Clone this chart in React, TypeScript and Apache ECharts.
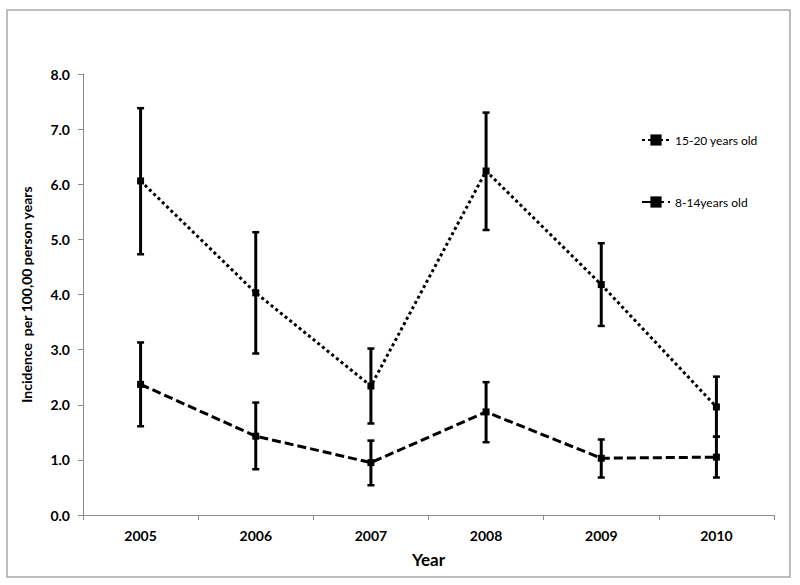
import React, { useEffect, useRef } from "react";
import * as echarts from "echarts";

const years = ["2005", "2006", "2007", "2008", "2009", "2010"];
const olderName = "15-20 years old";
const youngerName = "8-14years old";
const older = [6.06, 4.03, 2.34, 6.24, 4.18, 1.96];
const olderLow = [4.73, 2.93, 1.66, 5.17, 3.43, 1.42];
const olderHigh = [7.38, 5.13, 3.02, 7.3, 4.93, 2.51];
const younger = [2.37, 1.43, 0.95, 1.87, 1.03, 1.05];
const youngerLow = [1.61, 0.83, 0.54, 1.32, 0.68, 0.68];
const youngerHigh = [3.13, 2.04, 1.35, 2.41, 1.37, 1.42];

const FONT = "Lato, 'Liberation Sans', sans-serif";

function errorSeries(low: number[], high: number[]) {
  return {
    type: "custom",
    z: 5,
    data: low.map((l, i) => [i, l, high[i]]),
    encode: { x: 0, y: [1, 2] },
    renderItem: (params: any, api: any) => {
      const x = api.value(0);
      const lo = api.coord([x, api.value(1)]);
      const hi = api.coord([x, api.value(2)]);
      const cap = 3.5;
      const style = { stroke: "#000", lineWidth: 3 };
      const capStyle = { stroke: "#000", lineWidth: 2.5 };
      return {
        type: "group",
        children: [
          { type: "line", shape: { x1: lo[0], y1: lo[1], x2: hi[0], y2: hi[1] }, style },
          { type: "line", shape: { x1: hi[0] - cap, y1: hi[1], x2: hi[0] + cap, y2: hi[1] }, style: capStyle },
          { type: "line", shape: { x1: lo[0] - cap, y1: lo[1], x2: lo[0] + cap, y2: lo[1] }, style: capStyle },
        ],
      };
    },
    silent: true,
    tooltip: { show: false },
  };
}

export default function App() {
  const ref = useRef<HTMLDivElement>(null);
  useEffect(() => {
    if (!ref.current) return;
    const chart = echarts.init(ref.current, null, { renderer: "svg" });
    chart.setOption({
      animation: false,
      backgroundColor: "#fff",
      graphic: [
        {
          type: "rect",
          shape: { x: 7, y: 10, width: 783, height: 567 },
          style: { fill: "none", stroke: "#a8a8a8", lineWidth: 1.5 },
          z: -1,
        },
      ],
      grid: { left: 83, right: 26, top: 74, bottom: 70 },
      legend: {
        orient: "vertical",
        left: 636,
        top: 129,
        itemWidth: 28,
        itemHeight: 14,
        itemGap: 50,
        textStyle: { fontFamily: FONT, fontSize: 12, color: "#000" },
        data: [olderName, youngerName],
      },
      xAxis: {
        type: "category",
        data: years,
        boundaryGap: true,
        name: "Year",
        nameLocation: "middle",
        nameGap: 36,
        nameTextStyle: { fontFamily: FONT, fontWeight: "bold", fontSize: 17, color: "#000" },
        axisLine: { lineStyle: { color: "#8c8c8c", width: 1 } },
        axisTick: { show: true, length: 5, lineStyle: { color: "#8c8c8c" } },
        axisLabel: { fontFamily: FONT, fontWeight: "bold", fontSize: 14, color: "#000", margin: 13 },
        splitLine: { show: false },
      },
      yAxis: {
        type: "value",
        min: 0,
        max: 8,
        interval: 1,
        name: "Incidence  per 100,00 person years",
        nameLocation: "middle",
        nameGap: 50,
        nameTextStyle: { fontFamily: FONT, fontWeight: "bold", fontSize: 14, color: "#000" },
        axisLine: { show: true, lineStyle: { color: "#8c8c8c", width: 1 } },
        axisTick: { show: true, length: 5, lineStyle: { color: "#8c8c8c" } },
        axisLabel: {
          fontFamily: FONT,
          fontWeight: "bold",
          fontSize: 14,
          color: "#000",
          margin: 13,
          formatter: (v: number) => v.toFixed(1),
        },
        splitLine: { show: false },
      },
      series: [
        {
          name: olderName,
          type: "line",
          data: older,
          symbol: "rect",
          symbolSize: 7,
          itemStyle: { color: "#000" },
          lineStyle: { color: "#000", width: 3, type: [3, 3] },
          z: 3,
        },
        {
          name: youngerName,
          type: "line",
          data: younger,
          symbol: "rect",
          symbolSize: 7,
          itemStyle: { color: "#000" },
          lineStyle: { color: "#000", width: 3, type: [9, 4] },
          z: 3,
        },
        errorSeries(olderLow, olderHigh),
        errorSeries(youngerLow, youngerHigh),
      ],
    });
    return () => chart.dispose();
  }, []);
  return (
    <div
      ref={ref}
      style={{ position: "fixed", left: 0, top: 0, width: 800, height: 585, background: "#fff" }}
    />
  );
}
